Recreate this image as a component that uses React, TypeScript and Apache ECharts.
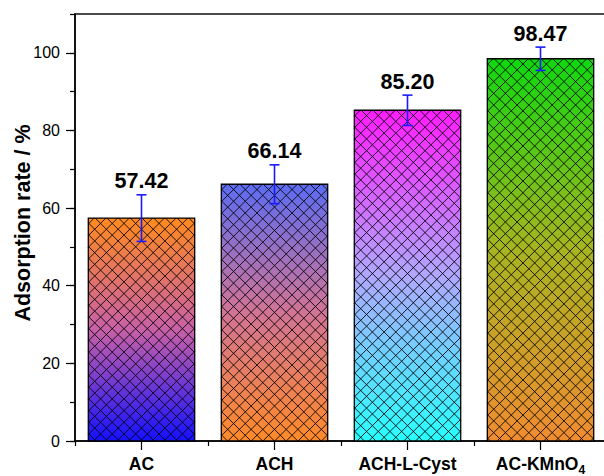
import React, { useEffect, useRef } from "react";
import * as echarts from "echarts";

const categories = ["AC", "ACH", "ACH-L-Cyst", "AC-KMnO4"];
const rates = [57.42, 66.14, 85.2, 98.47];
const errors = [6.0, 5.0, 3.9, 3.0];
const topColors = ["#FF8A1E", "#5C6CF2", "#FF1CFF", "#10D810"];
const midColors = ["#C860A8", "#D27496", "#B0A8FF", "#A8B420"];
const bottomColors = ["#1410FF", "#FF8A28", "#28FFFF", "#F08C30"];
const yMajorTicks = [0, 20, 40, 60, 80, 100];

const FONT = '"Liberation Sans", Arial, Helvetica, sans-serif';
const BAR_RATIO = 0.8;
const HATCH_STEP = 11.7;
const ERR_COLOR = "#1a1aff";

function hatchLines(x0: number, x1: number, y0: number, y1: number, step: number) {
  const lines: any[] = [];
  const style = { stroke: "#000", lineWidth: 1, opacity: 0.85 };
  // family x + y = c
  for (let c = x0 + y0 + step / 2; c < x1 + y1; c += step) {
    const xa = Math.max(x0, c - y1);
    const xb = Math.min(x1, c - y0);
    if (xb > xa) lines.push({ type: "line", shape: { x1: xa, y1: c - xa, x2: xb, y2: c - xb }, style });
  }
  // family x - y = c
  for (let c = x1 - y0 - step / 2; c > x0 - y1; c -= step) {
    const xa = Math.max(x0, c + y0);
    const xb = Math.min(x1, c + y1);
    if (xb > xa) lines.push({ type: "line", shape: { x1: xa, y1: xa - c, x2: xb, y2: xb - c }, style });
  }
  return lines;
}

function renderOverlay(params: any, api: any) {
  const i = api.value(0);
  const v = api.value(1);
  const e = api.value(2);
  const band = api.size([1, 0])[0];
  const w = band * BAR_RATIO;
  const top = api.coord([i, v]);
  const base = api.coord([i, 0]);
  const cx = top[0];
  const x0 = cx - w / 2;
  const x1 = cx + w / 2;
  const children: any[] = hatchLines(x0, x1, top[1], base[1], HATCH_STEP);
  children.push({
    type: "rect",
    shape: { x: x0, y: top[1], width: w, height: base[1] - top[1] },
    style: { fill: "none", stroke: "#000", lineWidth: 1.3 },
  });
  const hi = api.coord([i, v + e])[1];
  const lo = api.coord([i, v - e])[1];
  const errStyle = { stroke: ERR_COLOR, lineWidth: 1.6 };
  children.push({ type: "line", shape: { x1: cx, y1: hi, x2: cx, y2: lo }, style: errStyle });
  children.push({ type: "line", shape: { x1: cx - 5, y1: hi, x2: cx + 5, y2: hi }, style: errStyle });
  children.push({ type: "line", shape: { x1: cx - 5, y1: lo, x2: cx + 5, y2: lo }, style: errStyle });
  children.push({
    type: "text",
    x: cx,
    y: hi - 2.5,
    style: {
      text: v.toFixed(2),
      font: `bold 21.5px ${FONT}`,
      fill: "#000",
      align: "center",
      verticalAlign: "bottom",
    },
  });
  return { type: "group", children };
}

function labelFormatter(v: string) {
  const m = v.match(/^(.*?)(\d+)$/);
  return m ? `{b|${m[1]}}{s|${m[2]}}` : `{b|${v}}`;
}

export default function App() {
  const ref = useRef<HTMLDivElement>(null);
  useEffect(() => {
    if (!ref.current) return;
    const chart = echarts.init(ref.current, null, { renderer: "svg" });
    const option: any = {
      animation: false,
      backgroundColor: "#fff",
      grid: {
        left: 75,
        top: 14,
        width: 532,
        height: 430,
        show: true,
        borderColor: "#111",
        borderWidth: 1.5,
        backgroundColor: "transparent",
      },
      xAxis: [
        {
          type: "category",
          data: categories,
          position: "bottom",
          boundaryGap: true,
          axisLine: { lineStyle: { color: "#000", width: 1.5 } },
          axisTick: { show: true, length: 5, lineStyle: { color: "#000", width: 1.2 } },
          axisLabel: {
            margin: 11,
            formatter: labelFormatter,
            rich: {
              b: { fontSize: 17.5, fontWeight: "bold", fontFamily: FONT, color: "#000", lineHeight: 24 },
              s: {
                fontSize: 12,
                fontWeight: "bold",
                fontFamily: FONT,
                color: "#000",
                lineHeight: 12,
                verticalAlign: "top",
                padding: [12, 0, 0, 0],
              },
            },
          },
          splitLine: { show: false },
        },
        {
          type: "category",
          data: categories,
          position: "bottom",
          boundaryGap: true,
          axisLine: { show: false },
          axisTick: { show: true, alignWithLabel: true, length: 9, lineStyle: { color: "#000", width: 1.2 } },
          axisLabel: { show: false },
          splitLine: { show: false },
        },
      ],
      yAxis: [
        {
          type: "value",
          min: 0,
          max: 110,
          interval: 10,
          axisLine: { show: true, lineStyle: { color: "#000", width: 1.5 } },
          axisTick: { show: true, length: 5, lineStyle: { color: "#000", width: 1.2 } },
          axisLabel: {
            margin: 15,
            fontSize: 16,
            fontFamily: FONT,
            color: "#000",
            formatter: (val: number) => (yMajorTicks.includes(val) ? String(val) : ""),
          },
          splitLine: { show: false },
        },
        {
          type: "value",
          min: 0,
          max: 110,
          interval: 20,
          position: "left",
          axisLine: { show: false },
          axisTick: { show: true, length: 9, customValues: yMajorTicks, lineStyle: { color: "#000", width: 1.2 } },
          axisLabel: { show: false },
          splitLine: { show: false },
        },
      ],
      graphic: [
        {
          type: "text",
          x: 23,
          y: 223,
          rotation: Math.PI / 2,
          style: {
            text: "Adsorption rate / %",
            font: `bold 21.5px ${FONT}`,
            fill: "#000",
            align: "center",
            verticalAlign: "middle",
          },
        },
      ],
      series: [
        {
          type: "bar",
          xAxisIndex: 0,
          yAxisIndex: 0,
          barWidth: `${BAR_RATIO * 100}%`,
          data: rates.map((r, i) => ({
            value: r,
            itemStyle: {
              color: new echarts.graphic.LinearGradient(0, 0, 0, 1, [
                { offset: 0, color: topColors[i] },
                { offset: 0.5, color: midColors[i] },
                { offset: 1, color: bottomColors[i] },
              ]),
            },
          })),
          itemStyle: { borderColor: "#000", borderWidth: 0 },
          z: 2,
        },
        {
          type: "custom",
          xAxisIndex: 0,
          yAxisIndex: 0,
          renderItem: renderOverlay,
          encode: { x: 0, y: 1 },
          data: rates.map((r, i) => [i, r, errors[i]]),
          z: 3,
        },
      ],
    };
    chart.setOption(option);
    return () => chart.dispose();
  }, []);
  return (
    <div
      style={{
        position: "absolute",
        left: 0,
        top: 0,
        width: 604,
        height: 476,
        overflow: "hidden",
        background: "#fff",
      }}
    >
      <div ref={ref} style={{ width: 612, height: 476 }} />
    </div>
  );
}
